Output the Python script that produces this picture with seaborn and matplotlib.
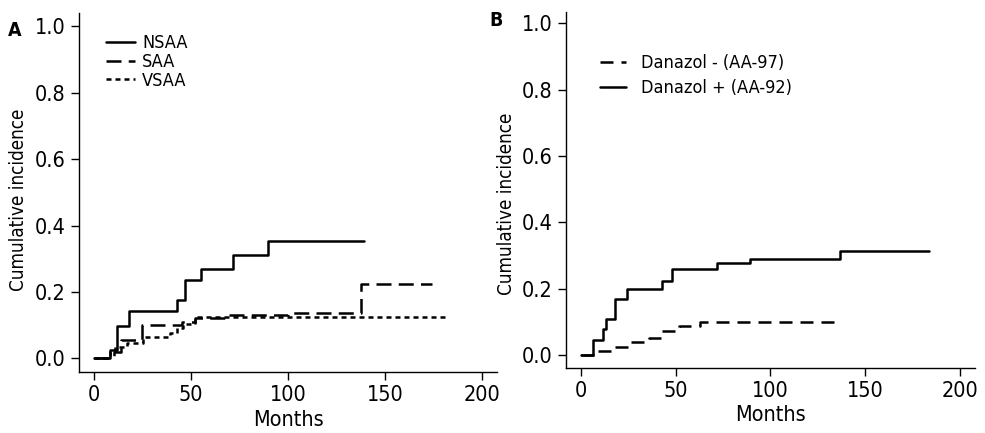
#%% imports
import matplotlib
matplotlib.use("Agg")
import matplotlib.pyplot as plt
import seaborn as sns
import pandas as pd

#%% data (months, cumulative incidence)
nsaa_months = [0, 8, 12, 18, 42.5, 47, 55, 71.5, 89.5, 139]
nsaa_inc = [0, 0.024, 0.096, 0.142, 0.175, 0.237, 0.27, 0.31, 0.352, 0.352]

saa_months = [0, 10, 14, 24.5, 45, 52, 68, 100, 137.5, 174]
saa_inc = [0, 0.02, 0.055, 0.10, 0.11, 0.12, 0.13, 0.137, 0.225, 0.225]

vsaa_months = [0, 8, 11, 17, 25, 39, 42.5, 46, 52, 183]
vsaa_inc = [0, 0.02, 0.034, 0.045, 0.063, 0.076, 0.09, 0.104, 0.124, 0.124]

dan_minus_months = [0, 9, 16, 26, 36, 43, 52, 63, 135]
dan_minus_inc = [0, 0.013, 0.025, 0.04, 0.053, 0.072, 0.088, 0.10, 0.10]

dan_plus_months = [0, 6.7, 11.6, 13.4, 18, 24.3, 42.8, 48, 71.8, 89.5, 136.7, 184]
dan_plus_inc = [0, 0.045, 0.08, 0.11, 0.17, 0.198, 0.224, 0.26, 0.277, 0.289, 0.315, 0.315]

x_ticks = [0, 50, 100, 150, 200]
y_ticks = [0.0, 0.2, 0.4, 0.6, 0.8, 1.0]

#%% style
sns.set_theme(style="ticks")
plt.rcParams['font.family'] = ['DejaVu Sans']
plt.rcParams['font.stretch'] = 'condensed'
plt.rcParams['text.color'] = 'black'
plt.rcParams['axes.labelcolor'] = 'black'
plt.rcParams['axes.linewidth'] = 1.0
plt.rcParams['xtick.major.size'] = 6
plt.rcParams['ytick.major.size'] = 6
plt.rcParams['xtick.major.pad'] = 3.5
plt.rcParams['ytick.major.pad'] = 3.5

SOLID = '-'
LONG = (0, (6.0, 2.9))
SHORT = (0, (2.0, 1.6))
MID = (0, (5.2, 3.2))
LW = 1.8

fig = plt.figure(figsize=(9.85, 4.33), dpi=100)
ax_a = fig.add_axes([0.0802, 0.1402, 0.4244, 0.8298])
ax_b = fig.add_axes([0.5746, 0.150, 0.4152, 0.823])


def draw(ax, months, inc, label, ls):
    df = pd.DataFrame({"Months": months, "inc": inc})
    sns.lineplot(data=df, x="Months", y="inc", ax=ax, color="black",
                 linewidth=LW, linestyle=ls, drawstyle="steps-post",
                 estimator=None, sort=False, label=label)


#%% panel A
draw(ax_a, nsaa_months, nsaa_inc, "NSAA", SOLID)
draw(ax_a, saa_months, saa_inc, "SAA", LONG)
draw(ax_a, vsaa_months, vsaa_inc, "VSAA", SHORT)

#%% panel B
draw(ax_b, dan_minus_months, dan_minus_inc, "Danazol - (AA-97)", MID)
draw(ax_b, dan_plus_months, dan_plus_inc, "Danazol + (AA-92)", SOLID)

for ax, xl, yl in [(ax_a, (-7.8, 207.5), (-0.042, 1.04)),
                   (ax_b, (-7.8, 208), (-0.039, 1.035))]:
    ax.set_xlim(*xl)
    ax.set_ylim(*yl)
    ax.set_xticks(x_ticks)
    ax.set_yticks(y_ticks)
    ax.set_yticklabels([f"{v:.1f}" for v in y_ticks])
    ax.tick_params(labelsize=15.5, colors="black", width=1)
    ax.set_xlabel("Months", fontsize=15.5, labelpad=3)
    sns.despine(ax=ax)
    for s in ax.spines.values():
        s.set_color("black")

ax_a.set_ylabel("Cumulative incidence", fontsize=13.5)
ax_a.yaxis.set_label_coords(-0.122, 0.48)
ax_b.set_ylabel("Cumulative incidence", fontsize=13.5)
ax_b.yaxis.set_label_coords(-0.122, 0.46)

ax_a.legend(loc="center left", bbox_to_anchor=(0.065, 0.864), frameon=False,
            fontsize=13, labelspacing=0.05, handlelength=1.6,
            handletextpad=0.4, borderpad=0, borderaxespad=0)
ax_b.legend(loc="center left", bbox_to_anchor=(0.083, 0.821), frameon=False,
            fontsize=13, labelspacing=0.38, handlelength=1.45,
            handletextpad=0.85, borderpad=0, borderaxespad=0)

fig.text(0.008, 1 - 31 / 433, "A", fontsize=14, weight="bold", va="center")
fig.text(0.497, 1 - 20 / 433, "B", fontsize=14, weight="bold", va="center")

fig.savefig("out.png", dpi=100)
